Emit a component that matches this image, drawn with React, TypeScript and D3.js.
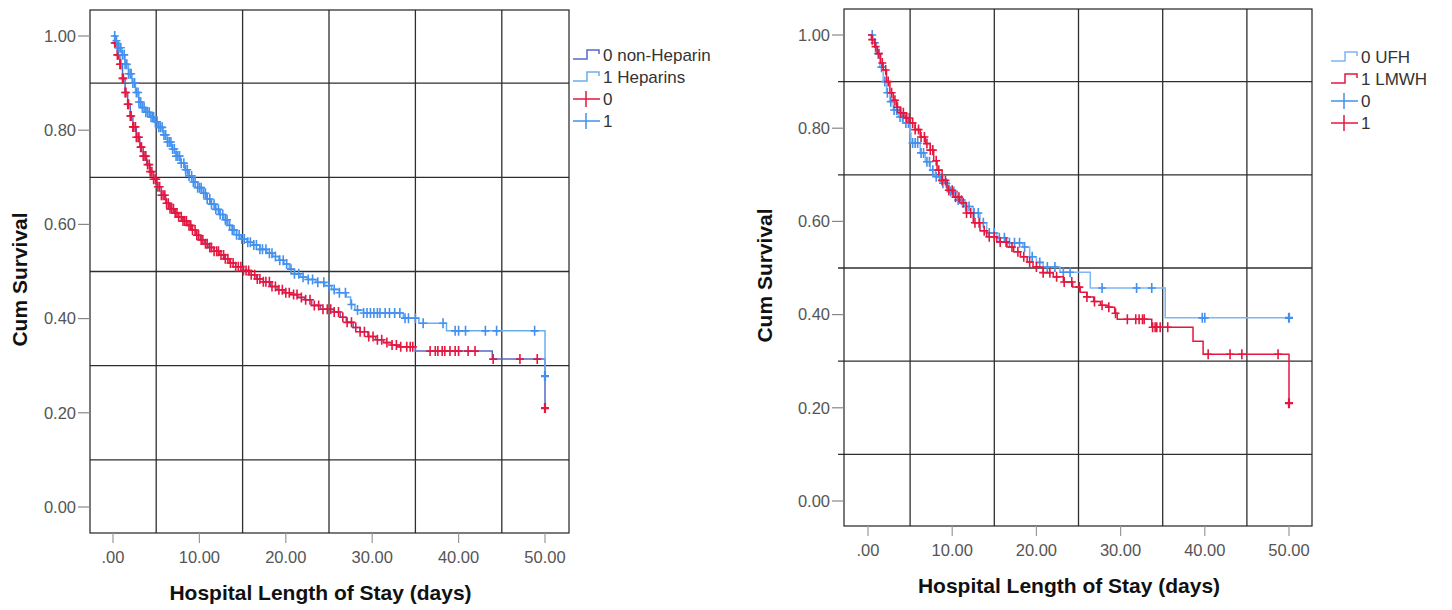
import * as d3 from "d3";

type Pt = [number, number];

const xTicks = [0, 10, 20, 30, 40, 50];
const xTickLabels = [".00", "10.00", "20.00", "30.00", "40.00", "50.00"];
const yTicks = [0, 0.2, 0.4, 0.6, 0.8, 1];
const yTickLabels = ["0.00", "0.20", "0.40", "0.60", "0.80", "1.00"];
const xGrid = [5, 15, 25, 35, 45];
const yGrid = [0.1, 0.3, 0.5, 0.7, 0.9];

// left panel: non-Heparin (0) vs Heparins (1)
const nonHeparinSurv: Pt[] = [
  [0, 1.0], [0.2, 0.985], [0.5, 0.96], [0.8, 0.94], [1.1, 0.91], [1.4, 0.88], [1.7, 0.855],
  [2.0, 0.83], [2.3, 0.807], [2.7, 0.785], [3.1, 0.764], [3.5, 0.745], [3.9, 0.727],
  [4.3, 0.712], [4.7, 0.696], [5.1, 0.68], [5.6, 0.662], [6.1, 0.645], [6.6, 0.633],
  [7.1, 0.624], [7.6, 0.616], [8.1, 0.607], [8.6, 0.598], [9.1, 0.588], [9.6, 0.577],
  [10.1, 0.567], [10.6, 0.559], [11.1, 0.551], [11.7, 0.543], [12.3, 0.535], [12.9, 0.527],
  [13.5, 0.518], [14.2, 0.51], [15.0, 0.502], [15.8, 0.493], [16.6, 0.484], [17.4, 0.478],
  [18.2, 0.468], [19.0, 0.461], [19.8, 0.455], [20.6, 0.451], [21.4, 0.445], [22.2, 0.44],
  [23.0, 0.428], [24.0, 0.42], [25.5, 0.414], [26.3, 0.403], [27.0, 0.392], [27.8, 0.381],
  [28.6, 0.372], [29.5, 0.362], [30.4, 0.355], [31.3, 0.349], [32.2, 0.344], [33.2, 0.34],
  [35.0, 0.331], [43.9, 0.314], [50.0, 0.21],
];
const nonHeparinCensor = [
  0.2, 0.3, 0.5, 0.6, 0.8, 0.9, 1.1, 1.2, 1.4, 1.5, 1.7, 1.8, 2.0, 2.1, 2.3, 2.4, 2.6, 2.7,
  2.9, 3.0, 3.2, 3.3, 3.5, 3.7, 3.8, 4.0, 4.2, 4.3, 4.5, 4.7, 4.9, 5.0, 5.2, 5.4, 5.6, 5.8,
  6.0, 6.2, 6.4, 6.6, 6.8, 7.0, 7.2, 7.4, 7.6, 7.9, 8.1, 8.3, 8.5, 8.8, 9.0, 9.2, 9.5, 9.7,
  9.9, 10.2, 10.4, 10.7, 10.9, 11.2, 11.4, 11.7, 12.0, 12.2, 12.5, 12.8, 13.0, 13.3, 13.6,
  13.9, 14.2, 14.5, 14.8, 15.1, 15.4, 15.7, 16.0, 16.4, 16.7, 17.0, 17.4, 17.7, 18.1, 18.4,
  18.8, 19.2, 19.6, 20.0, 20.4, 20.9, 21.3, 21.8, 22.3, 22.8, 23.3, 23.8, 24.3, 24.8, 25.2,
  25.6, 26.1, 26.6, 27.1, 27.6, 28.1, 28.6, 29.1, 29.6, 30.1, 30.6, 31.1, 31.7, 32.3, 32.8,
  33.3, 34.0, 34.4, 34.7, 36.7, 37.3, 37.6, 38.1, 38.4, 39.0, 39.6, 40.0, 41.1, 41.9, 44.0,
  47.1, 49.1, 50,
];
const heparinSurv: Pt[] = [
  [0, 1.0], [0.3, 0.99], [0.6, 0.975], [1.0, 0.96], [1.4, 0.94], [1.8, 0.92], [2.2, 0.9],
  [2.6, 0.88], [3.0, 0.86], [3.4, 0.848], [3.8, 0.838], [4.3, 0.828], [4.8, 0.818],
  [5.3, 0.806], [5.8, 0.79], [6.3, 0.775], [6.8, 0.76], [7.3, 0.745], [7.8, 0.73],
  [8.3, 0.716], [8.8, 0.703], [9.3, 0.69], [9.8, 0.678], [10.3, 0.666], [10.8, 0.654],
  [11.3, 0.643], [11.8, 0.632], [12.3, 0.621], [12.8, 0.61], [13.3, 0.598], [13.8, 0.588],
  [14.3, 0.578], [14.8, 0.569], [15.5, 0.562], [16.2, 0.556], [17.0, 0.547], [17.8, 0.539],
  [18.5, 0.532], [19.2, 0.524], [19.8, 0.516], [20.4, 0.505], [21.0, 0.495], [21.7, 0.488],
  [22.5, 0.483], [23.5, 0.477], [24.5, 0.47], [25.3, 0.462], [26.2, 0.455], [27.0, 0.446],
  [27.5, 0.43], [28.0, 0.418], [29.0, 0.412], [33.6, 0.401], [35.4, 0.39], [38.6, 0.374],
  [50.0, 0.278],
];
const heparinCensor = [
  0.2, 0.4, 0.6, 0.7, 0.9, 1.1, 1.3, 1.4, 1.6, 1.8, 2.0, 2.1, 2.3, 2.5, 2.7, 2.9, 3.0, 3.2,
  3.4, 3.6, 3.8, 4.0, 4.2, 4.4, 4.6, 4.7, 4.9, 5.1, 5.3, 5.5, 5.7, 5.9, 6.1, 6.3, 6.5, 6.7,
  6.9, 7.1, 7.3, 7.5, 7.7, 7.9, 8.2, 8.4, 8.6, 8.8, 9.1, 9.3, 9.5, 9.8, 10.0, 10.2, 10.5,
  10.7, 10.9, 11.2, 11.4, 11.7, 11.9, 12.2, 12.4, 12.7, 13.0, 13.2, 13.5, 13.8, 14.0, 14.3,
  14.6, 14.9, 15.2, 15.6, 15.9, 16.3, 16.6, 17.0, 17.3, 17.7, 18.1, 18.4, 18.8, 19.3, 19.7,
  20.1, 20.6, 21.0, 21.5, 22.0, 22.6, 23.1, 23.7, 24.4, 25.0, 25.6, 26.2, 26.9, 27.6, 28.3,
  29.0, 29.4, 29.8, 30.2, 30.6, 30.9, 31.5, 32.0, 32.6, 33.2, 33.8, 34.2, 35.0, 35.9, 38.2,
  39.6, 40.0, 40.8, 43.1, 44.4, 48.8, 50,
];

// right panel: UFH (0) vs LMWH (1)
const ufhSurv: Pt[] = [
  [0, 1.0], [0.6, 0.983], [1.0, 0.96], [1.4, 0.931], [1.8, 0.9], [2.2, 0.876], [2.6, 0.857],
  [3.0, 0.839], [3.6, 0.824], [4.2, 0.811], [5.0, 0.79], [5.1, 0.768], [6.2, 0.747],
  [6.8, 0.728], [7.4, 0.71], [8.0, 0.696], [8.6, 0.682], [9.6, 0.664], [10.6, 0.646],
  [11.5, 0.632], [12.5, 0.618], [13.3, 0.597], [14.1, 0.575], [15.3, 0.565], [16.5, 0.554],
  [18.4, 0.545], [19.2, 0.524], [20.0, 0.512], [20.8, 0.502], [22.8, 0.491], [26.4, 0.457],
  [35.3, 0.393], [50.0, 0.393],
];
const ufhCensor = [
  0.5, 0.8, 1.2, 1.6, 2.0, 2.3, 2.7, 3.1, 3.4, 3.8, 4.1, 4.5, 4.8, 5.3, 5.6, 5.9, 6.3, 6.6,
  7.0, 7.3, 7.7, 8.1, 8.5, 8.9, 9.3, 9.8, 10.2, 10.7, 11.1, 11.6, 12.0, 12.6, 13.1, 13.7,
  14.4, 15.0, 15.6, 16.2, 16.8, 17.4, 18.0, 18.6, 19.5, 20.4, 21.3, 22.2, 23.2, 24.0, 27.8,
  31.9, 33.7, 39.7, 40.0, 50,
];
const lmwhSurv: Pt[] = [
  [0, 1.0], [0.4, 0.99], [0.8, 0.975], [1.1, 0.96], [1.5, 0.94], [1.8, 0.925], [2.2, 0.9],
  [2.6, 0.876], [3.0, 0.86], [3.4, 0.845], [3.8, 0.833], [4.4, 0.822], [5.0, 0.811],
  [5.6, 0.797], [6.2, 0.781], [6.8, 0.767], [7.4, 0.753], [7.8, 0.73], [8.2, 0.71],
  [8.8, 0.688], [9.4, 0.667], [10.1, 0.652], [10.9, 0.64], [11.7, 0.618], [12.5, 0.597],
  [13.3, 0.58], [14.1, 0.567], [15.3, 0.556], [16.5, 0.545], [17.3, 0.535], [18.1, 0.524],
  [18.9, 0.513], [19.6, 0.502], [20.8, 0.49], [22.0, 0.481], [23.2, 0.47], [24.3, 0.459],
  [25.2, 0.448], [26.0, 0.438], [26.8, 0.428], [27.6, 0.42], [28.5, 0.416], [29.3, 0.403],
  [29.6, 0.39], [33.7, 0.373], [38.6, 0.343], [39.8, 0.315], [50.0, 0.21],
];
const lmwhCensor = [
  0.5, 0.9, 1.3, 1.7, 2.1, 2.4, 2.8, 3.2, 3.5, 3.9, 4.2, 4.6, 4.9, 5.3, 5.6, 6.0, 6.3, 6.7,
  7.0, 7.4, 7.7, 8.1, 8.4, 8.8, 9.2, 9.6, 10.0, 10.4, 10.8, 11.3, 11.7, 12.2, 12.7, 13.2,
  13.8, 14.4, 15.0, 15.7, 16.4, 17.1, 17.8, 18.5, 19.2, 20.0, 20.8, 21.6, 22.4, 23.3, 24.2,
  25.1, 26.0, 26.9, 27.8, 28.6, 29.4, 30.8, 31.8, 32.2, 32.6, 32.8, 33.8, 34.1, 34.3, 34.7,
  35.6, 40.4, 43.0, 44.4, 48.7, 50,
];

const RED = "#e5173f";
const BLUE = "#4390ee";
const FONT = "'Liberation Sans', Arial, sans-serif";

type Series = { surv: Pt[]; censor: number[]; line: string; mark: string };
type LegendItem = { kind: "step" | "cross"; color: string; label: string };

function survAt(surv: Pt[], t: number) {
  const i = d3.bisector((d: Pt) => d[0]).right(surv, t) - 1;
  return surv[Math.max(0, i)][1];
}

function Panel({
  frame, xr, yr, series, legend, legendX, legendY, yTitleX, gridExt = 0,
}: {
  frame: { l: number; t: number; r: number; b: number };
  xr: [number, number];
  yr: [number, number];
  series: Series[];
  legend: LegendItem[];
  legendX: number;
  legendY: number;
  yTitleX: number;
  gridExt?: number;
}) {
  const x = d3.scaleLinear([0, 50], xr);
  const y = d3.scaleLinear([0, 1], yr);
  const line = d3.line<Pt>().x(d => x(d[0])).y(d => y(d[1])).curve(d3.curveStepAfter);
  const cx = (frame.l + frame.r) / 2;
  return (
    <g>
      {/* grid */}
      <g stroke="#2e2e2e" strokeWidth={1.3}>
        {xGrid.map(v => <line key={v} x1={x(v)} x2={x(v)} y1={frame.t} y2={frame.b} />)}
        {yGrid.map(v => <line key={v} x1={frame.l - gridExt} x2={frame.r} y1={y(v)} y2={y(v)} />)}
      </g>
      <rect x={frame.l} y={frame.t} width={frame.r - frame.l} height={frame.b - frame.t}
        fill="none" stroke="#222" strokeWidth={1.2} />
      {/* axes */}
      <g fontFamily={FONT} fontSize={16.5} fill="#555">
        {yTicks.map((v, i) => (
          <g key={v}>
            <line x1={frame.l - 12} x2={frame.l} y1={y(v)} y2={y(v)} stroke="#888" strokeWidth={1.2} />
            <text x={frame.l - 14} y={y(v)} dy="0.35em" textAnchor="end">{yTickLabels[i]}</text>
          </g>
        ))}
        {xTicks.map((v, i) => (
          <g key={v}>
            <line x1={x(v)} x2={x(v)} y1={frame.b} y2={frame.b + 10} stroke="#999" strokeWidth={1.2} />
            <text x={x(v)} y={frame.b + 30} textAnchor="middle">{xTickLabels[i]}</text>
          </g>
        ))}
      </g>
      <text x={cx - 9} y={frame.b + 67} textAnchor="middle" fontFamily={FONT} fontWeight="bold"
        fontSize={21} fill="#111">Hospital Length of Stay (days)</text>
      <text transform={`translate(${yTitleX},${(frame.t + frame.b) / 2 + 8}) rotate(-90)`}
        textAnchor="middle" fontFamily={FONT} fontWeight="bold" fontSize={21} fill="#111">Cum Survival</text>
      {/* curves */}
      {series.map((s, si) => (
        <g key={si}>
          <path d={line(s.surv) ?? ""} fill="none" stroke={s.line} strokeWidth={1.5} />
          <g stroke={s.mark} fill="none">
            {s.censor.map((t, i) => {
              const px = x(t);
              const py = y(survAt(s.surv, t));
              const last = t >= 50;
              return (
                <path key={i} d={`M${px - 4},${py}h8M${px},${py - 5}v10`}
                  strokeWidth={last ? 2.2 : 1.6} />
              );
            })}
          </g>
        </g>
      ))}
      {/* legend */}
      <g fontFamily={FONT} fontSize={17} fill="#333">
        {legend.map((it, i) => {
          const ly = legendY + i * 22;
          return (
            <g key={i}>
              {it.kind === "step" ? (
                <path d={`M${legendX},${ly + 4}h14v-9h12v4`} fill="none" stroke={it.color} strokeWidth={1.5} />
              ) : (
                <path d={`M${legendX},${ly}h27M${legendX + 13},${ly - 8}v16`} fill="none" stroke={it.color} strokeWidth={1.5} />
              )}
              <text x={legendX + 30} y={ly} dy="0.36em">{it.label}</text>
            </g>
          );
        })}
      </g>
    </g>
  );
}

export default function App() {
  return (
    <svg width={1452} height={610} style={{ position: "absolute", left: 0, top: 0, background: "#fff" }}>
      <Panel
        frame={{ l: 90, t: 10, r: 569, b: 533 }}
        xr={[113, 545]}
        yr={[507, 36]}
        series={[
          { surv: nonHeparinSurv, censor: nonHeparinCensor, line: "#5468c8", mark: RED },
          { surv: heparinSurv, censor: heparinCensor, line: "#6aaef2", mark: BLUE },
        ]}
        legend={[
          { kind: "step", color: "#5468c8", label: "0 non-Heparin" },
          { kind: "step", color: "#6aaef2", label: "1 Heparins" },
          { kind: "cross", color: RED, label: "0" },
          { kind: "cross", color: BLUE, label: "1" },
        ]}
        legendX={573}
        legendY={55}
        yTitleX={27}
      />
      <Panel
        frame={{ l: 844, t: 9, r: 1312, b: 526 }}
        xr={[868, 1289]}
        yr={[501, 35]}
        series={[
          { surv: ufhSurv, censor: ufhCensor, line: "#7db6f2", mark: BLUE },
          { surv: lmwhSurv, censor: lmwhCensor, line: RED, mark: RED },
        ]}
        legend={[
          { kind: "step", color: "#7db6f2", label: "0 UFH" },
          { kind: "step", color: RED, label: "1 LMWH" },
          { kind: "cross", color: BLUE, label: "0" },
          { kind: "cross", color: RED, label: "1" },
        ]}
        legendX={1331}
        legendY={57}
        yTitleX={772}
        gridExt={6}
      />
    </svg>
  );
}
